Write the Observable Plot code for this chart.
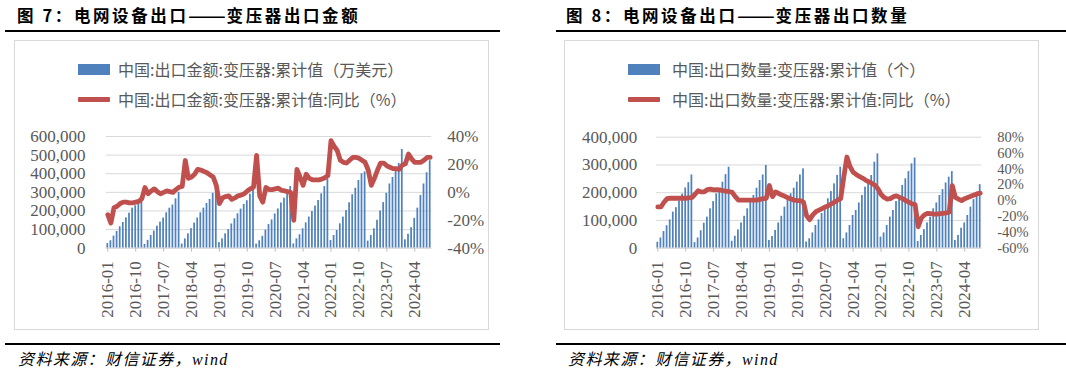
<!DOCTYPE html>
<html><head><meta charset="utf-8">
<script src="https://cdn.jsdelivr.net/npm/d3@7"></script>
<script src="https://cdn.jsdelivr.net/npm/@observablehq/plot@0.6"></script>
<style>
html,body{margin:0;padding:0;background:#fff;}
body{width:1066px;height:375px;position:relative;overflow:hidden;font-family:"Noto Sans CJK SC",sans-serif;}
.abs{position:absolute;}
.title{font-family:"Noto Sans CJK SC";font-weight:bold;font-size:16.5px;letter-spacing:2.6px;color:#000;line-height:20px;white-space:nowrap;}
.title .dash{display:inline-block;transform:scaleX(1.35);transform-origin:left center;margin-right:10px;letter-spacing:0;}
.rule{height:2px;background:#000;}
.box{border:1px solid #D9D9D9;box-sizing:border-box;}
.src{font-family:"Liberation Serif","Noto Sans CJK SC";font-style:italic;font-size:16px;color:#000;line-height:20px;white-space:nowrap;letter-spacing:1.4px;}
.leg{font-family:"Noto Sans CJK SC";font-size:16px;color:#595959;line-height:20px;white-space:nowrap;}
.swb{height:11px;background:#4F81BD;}
.swl{height:5px;background:#C0504D;border-radius:1px;}
</style></head>
<body>
<script>
// ---------------- data ----------------
const startYear = 2016, nMonths = 105; // 2016-01 .. 2024-09
const xTickLabels = ["2016-01","2016-10","2017-07","2018-04","2019-01","2019-10","2020-07","2021-04","2022-01","2022-10","2023-07","2024-04"];

// 中国:出口金额:变压器:累计值（万美元）
const amountValues = [
  25000,40000,65000,90000,115000,138000,163000,188000,215000,228000,240000,258000,
  20000,42000,68000,92000,118000,140000,162000,190000,215000,232000,265000,300000,
  22000,50000,77000,105000,135000,162000,190000,215000,240000,262000,295000,325000,
  30000,50000,77000,100000,130000,158000,185000,210000,235000,255000,290000,318000,
  22000,40000,64000,97000,127000,152000,184000,211000,243000,269000,301000,331000,
  23000,50000,72000,104000,136000,167000,197000,226000,256000,292000,331000,372000,
  41000,68000,95000,131000,167000,202000,244000,287000,322000,364000,400000,410000,
  38000,68000,104000,150000,200000,245000,295000,345000,380000,420000,455000,530000,
  45000,75000,110000,160000,215000,283000,345000,405000,470000
];
// 中国:出口金额:变压器:累计值:同比（%）
const amountYoY = [
  -16,-22,-11,-10,-8,-7,-7,-7.5,-7.5,-7,-6.5,-4.5,
  3.5,-1,1,2.5,0.5,-1,0,1,0.5,0,2,3.7,
  4.2,22.8,10,11,13,16.5,16,15,14,12.5,11,5,
  -8,-4,-3,-2.5,-5,-4,-2.5,-2,-1,1,2.5,3.7,
  26.5,-2.5,-7,3.5,2,2,2.5,3,1.5,1,0.5,0,
  -20,16.5,11,5,13,10,9,9,9,9.5,10.5,12,
  37,33,30,23,21.5,21,23,25,25,24.5,23,21.5,
  16,5,10,16,21,21,19,18,17,17,16.5,19.5,
  20.5,27.5,24,21.5,21.5,21.5,23,25,25
];
// 中国:出口数量:变压器:累计值（个）
const qtyValues = [
  21600,37000,60000,81000,102000,130000,146000,170000,195000,217000,236000,264000,
  20000,37000,63000,90000,112000,142000,168000,196000,214000,238000,265000,292000,
  25000,43000,66000,91000,115000,142000,166000,190000,216000,244000,264000,298000,
  28000,42000,64000,91000,115000,148000,172000,196000,216000,238000,264000,286000,
  22000,34000,55000,82000,102000,125000,150000,178000,204000,232000,262000,292000,
  34000,55000,82000,118000,136000,163000,190000,220000,238000,262000,310000,340000,
  40000,55000,82000,112000,136000,168000,186000,226000,250000,276000,304000,325000,
  24000,46000,67000,91000,112000,142000,163000,190000,211000,235000,256000,276000,
  28000,46000,72000,91000,118000,148000,175000,202000,229000
];
// 中国:出口数量:变压器:累计值:同比（%）
const qtyYoY = [
  -8,-8,-2,2.5,3,3,3,3,3,3,3.5,4,
  8,12.5,11,11,14,14.5,13.5,14,13.5,12.5,12,11.5,
  10.5,5,0.6,0.6,0.6,0.6,0.6,0.6,0.6,1.5,2.5,3,
  19,5,11,9,7,5.5,3.5,2,0.5,0,0,-2,
  -19,-24,-18,-14,-12,-10,-8,-6.5,-4,-2,0.5,2.5,
  30,55,43,36,33,30.5,28.5,26,24,22,19.5,15,
  8,4,2,2.5,5,6,4,2.5,0,-2,-4,-5,
  -33,-22,-18,-16,-16.5,-17,-17,-16.5,-16,-15.5,-14.5,19,
  4,2,0,2.5,4,5.5,7,8.5,9.5
];

const months = [];
for (let i = 0; i < nMonths; i++) months.push(`${startYear + Math.floor(i/12)}-${String(i%12+1).padStart(2,"0")}`);
const tickIdx = xTickLabels.map(l => months.indexOf(l));

const pctFmt = p => { const r = Math.round(p); return (r < 0 ? "-" : "") + Math.abs(r) + "%"; };

function makeChart({values, yoy, yMax, yTicks, pDomain, pTicks, marginLeft, marginRight, marginTop, padL, pctFont}) {
  const toY = d3.scaleLinear(pDomain, [0, yMax]);
  const data = values.map((v, i) => ({i, v, p: yoy[i]}));
  return Plot.plot({
    width: 533, height: 200,
    marginTop, marginBottom: 77.3, marginLeft, marginRight,
    style: {background: "transparent", fontFamily: "'Liberation Serif', serif", fontSize: "17px", color: "#595959", overflow: "visible"},
    x: {type: "linear", domain: [-0.5, nMonths - 0.5]},
    y: {domain: [0, yMax]},
    marks: [
      Plot.gridY(yTicks, {stroke: "#D9D9D9", strokeOpacity: 1, strokeWidth: 1}),
      Plot.rectY(data, {x1: d => d.i - 0.28, x2: d => d.i + 0.28, y: "v", fill: "#4F81BD"}),
      Plot.ruleY([0], {stroke: "#D9D9D9", strokeWidth: 1}),
      Plot.lineY(data, {x: "i", y: d => toY(d.p), stroke: "#C0504D", strokeWidth: 4.8, strokeLinejoin: "round", strokeLinecap: "round"}),
      Plot.axisY(yTicks, {anchor: "left", tickSize: 0, tickPadding: padL, tickFormat: d3.format(","), label: null, color: "#595959"}),
      Plot.axisY(pTicks.map(toY), {anchor: "right", tickSize: 0, tickPadding: 15.5, tickFormat: v => pctFmt(toY.invert(v)), label: null, color: "#595959", fontSize: pctFont}),
      Plot.axisX(tickIdx, {tickSize: 4, tickPadding: 9, tickRotate: -90, tickFormat: i => months[i], label: null, color: "#595959", stroke: "#BFBFBF"})
    ]
  });
}

function add(html, cls, css) {
  const d = document.createElement("div");
  d.className = "abs " + cls;
  Object.assign(d.style, css);
  d.innerHTML = html;
  document.body.appendChild(d);
  return d;
}

// ---------- left panel ----------
add("图 7：电网设备出口<span class='dash'>——</span>变压器出口金额", "title", {left: "17px", top: "5px"});
add("", "rule", {left: "5px", top: "30px", width: "495px"});
add("", "box", {left: "14px", top: "40px", width: "475px", height: "290px"});
add("", "swb", {left: "78px", top: "64px", width: "32px"});
add("中国:出口金额:变压器:累计值（万美元）", "leg", {left: "118px", top: "59px"});
add("", "swl", {left: "78px", top: "97px", width: "32px"});
add("中国:出口金额:变压器:累计值:同比（%）", "leg", {left: "118px", top: "89px"});
const c1 = makeChart({values: amountValues, yoy: amountYoY, yMax: 600000,
  yTicks: [0,100000,200000,300000,400000,500000,600000],
  pDomain: [-40, 40], pTicks: [-40,-20,0,20,40],
  marginLeft: 105.75, marginRight: 101.75, marginTop: 11, padL: 20.75, pctFont: "17px"});
const w1 = add("", "", {left: "0px", top: "125px"}); w1.appendChild(c1);
add("", "rule", {left: "5px", top: "343px", width: "495px"});
add("资料来源：财信证券，wind", "src", {left: "18px", top: "350px"});

// ---------- right panel ----------
add("图 8：电网设备出口<span class='dash'>——</span>变压器出口数量", "title", {left: "566px", top: "5px"});
add("", "rule", {left: "556px", top: "30px", width: "510px"});
add("", "box", {left: "564px", top: "40px", width: "475px", height: "290px"});
add("", "swb", {left: "628px", top: "64px", width: "32px"});
add("中国:出口数量:变压器:累计值（个）", "leg", {left: "672px", top: "59px"});
add("", "swl", {left: "628px", top: "97px", width: "32px"});
add("中国:出口数量:变压器:累计值:同比（%）", "leg", {left: "672px", top: "89px"});
const c2 = makeChart({values: qtyValues, yoy: qtyYoY, yMax: 400000,
  yTicks: [0,100000,200000,300000,400000],
  pDomain: [-60, 80], pTicks: [-60,-40,-20,0,20,40,60,80],
  marginLeft: 122.75, marginRight: 84.75, marginTop: 11.7, padL: 19, pctFont: "14.5px"});
const w2 = add("", "", {left: "533px", top: "125px"}); w2.appendChild(c2);
add("", "rule", {left: "556px", top: "343px", width: "510px"});
add("资料来源：财信证券，wind", "src", {left: "568px", top: "350px"});
</script>
</body></html>
